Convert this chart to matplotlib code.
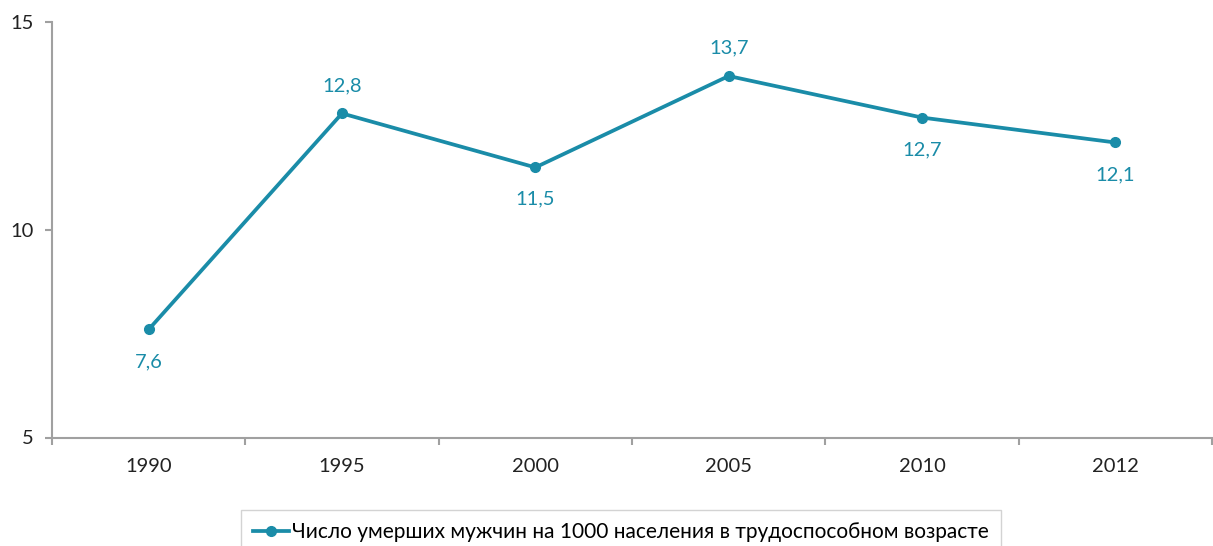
import matplotlib
matplotlib.use("Agg")
import matplotlib.pyplot as plt

# data
years = ["1990", "1995", "2000", "2005", "2010", "2012"]
deaths = [7.6, 12.8, 11.5, 13.7, 12.7, 12.1]
label_above = [False, True, False, True, False, False]
series_name = "Число умерших мужчин на 1000 населения в трудоспособном возрасте"

teal = "#1a8ca8"
grey = "#a0a0a0"
plt.rcParams['font.family'] = ['Lato', 'DejaVu Sans']

W, H = 1213, 546
fig = plt.figure(figsize=(W / 100, H / 100), dpi=100)
ax = fig.add_axes([52 / W, 1 - 437.5 / H, (1212 - 52) / W, (437.5 - 22) / H])

x = list(range(len(years)))
line, = ax.plot(x, deaths, color=teal, linewidth=2.7, marker="o", markersize=7,
                label=series_name, solid_joinstyle="round")

for xi, v, up in zip(x, deaths, label_above):
    ax.annotate(f"{v:.1f}".replace(".", ","), (xi, v),
                xytext=(0, 20 if up else -23), textcoords="offset points",
                ha="center", va="center", color=teal, fontsize=14.5)

ax.set_xlim(-0.5, len(years) - 0.5)
ax.set_ylim(5, 15)
ax.set_yticks([5, 10, 15])
ax.set_xticks(x)
ax.set_xticklabels(years)
ax.set_xticks([i - 0.5 for i in range(len(years) + 1)], minor=True)
ax.tick_params(axis="x", which="major", length=0, pad=15, labelsize=14.5, colors="#222222")
ax.tick_params(axis="x", which="minor", length=5, width=1.5, color=grey, direction="out")
ax.tick_params(axis="y", length=5, width=1.5, color=grey, labelsize=14.5, pad=8)
ax.tick_params(axis="y", colors=grey, labelcolor="#222222")

for side in ["top", "right"]:
    ax.spines[side].set_visible(False)
for side in ["left", "bottom"]:
    ax.spines[side].set_color(grey)
    ax.spines[side].set_linewidth(1.5)

leg = fig.legend(handles=[line], loc="upper center", bbox_to_anchor=(621 / W, 1 - 510 / H),
                 frameon=True, fancybox=False, fontsize=15, handlelength=1.7,
                 borderpad=0.6, handletextpad=0.15, borderaxespad=0)
leg.get_frame().set_edgecolor("#c8c8c8")
leg.get_frame().set_linewidth(1)

fig.savefig("out.png", dpi=100)
